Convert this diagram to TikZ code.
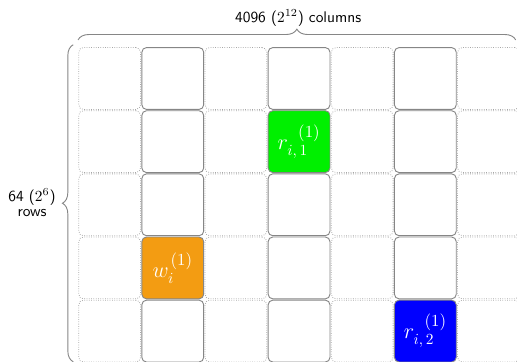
\documentclass[tikz,border=0pt]{standalone}
\usepackage{tikz}
\usepackage{amsmath}
\usetikzlibrary{decorations.pathreplacing}
\renewcommand{\familydefault}{\sfdefault}
\definecolor{wrorange}{RGB}{243,156,18}
\definecolor{rdgreen}{RGB}{0,240,0}
\definecolor{rdblue}{RGB}{0,0,255}
\newcommand{\cellsup}[1]{^{\mkern#1mu\raisebox{1pt}{\fontsize{11}{13}\selectfont$(1)$}}}

\begin{document}
\begin{tikzpicture}[
  cellbase/.style={rectangle, rounded corners=3pt, minimum size=1.41cm, inner sep=0pt},
  idlecell/.style={cellbase, draw=gray!70, densely dotted, line width=0.5pt},
  usedcell/.style={cellbase, draw=gray!95, line width=0.6pt},
  hitcell/.style={usedcell, text=white, font=\Large},
  bracket/.style={draw=gray!95, line width=0.6pt, decorate, decoration={brace, amplitude=7pt}}]
\useasboundingbox (-1.78,1.07) rectangle (10.01,-7.18);
\clip (-1.78,1.07) rectangle (10.01,-7.18);
% unused columns:
\foreach \c in {0,2,4,6}{
  \foreach \r in {0,...,4}{
    \node[idlecell] (cell-\c-\r) at ({(\c+0.5)*1.44},{-(\r+0.5)*1.44}) {};
  }
}
% accessed columns:
\foreach \c/\crow in {1/3,3/1,5/4}{
  \foreach \r in {0,...,4}{
    \ifnum\r=\crow\else
    \node[usedcell] (cell-\c-\r) at ({(\c+0.5)*1.44},{-(\r+0.5)*1.44}) {};
    \fi
  }
}
\node[hitcell, fill=rdgreen] (cell-3-1) at ({3.5*1.44},{-1.5*1.44}) {$r_{i,\,1}\cellsup{12}$};
\node[hitcell, fill=wrorange] (cell-1-3) at ({1.5*1.44},{-3.5*1.44}) {$w_i\cellsup{2}$};
\node[hitcell, fill=rdblue] (cell-5-4) at ({5.5*1.44},{-4.5*1.44}) {$r_{i,\,2}\cellsup{12}$};
% braces:
\coordinate (top-l) at (0,0.16);
\coordinate (top-r) at (9.98,0.16);
\coordinate (left-b) at (-0.11,-7.18);
\coordinate (left-t) at (-0.11,0.05);
\draw[bracket] (top-l) -- (top-r);
\draw[bracket] (left-b) -- (left-t);
\node (cols) at (5.02,0.66) {4096 ($2^{12}$) columns};
\node[align=center, inner sep=0pt] (rows) at (-1.05,-3.56) {64 ($2^6$)\\[-2pt]rows};
\end{tikzpicture}
\end{document}
